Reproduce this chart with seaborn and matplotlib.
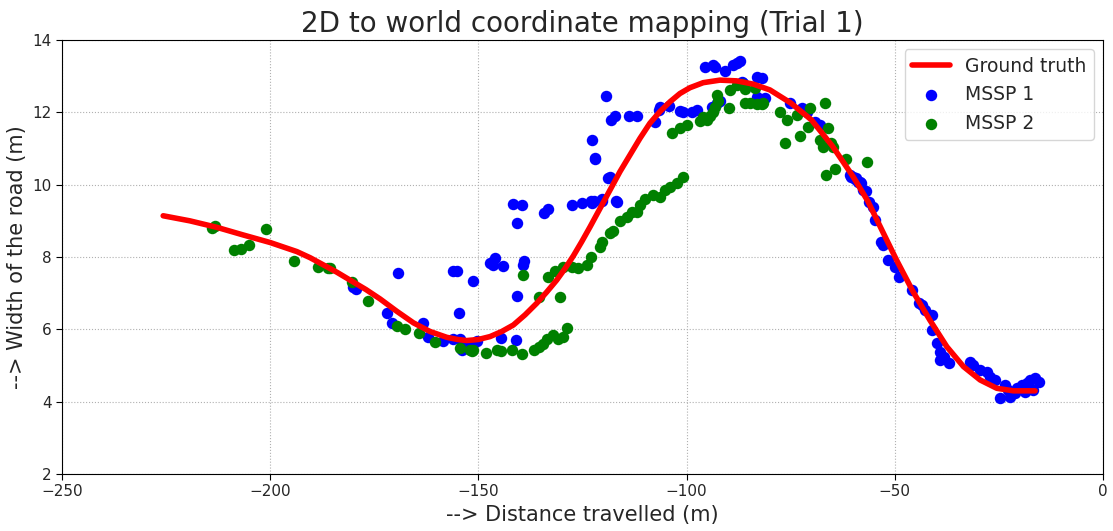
import matplotlib
matplotlib.use("Agg")
import matplotlib.pyplot as plt
import seaborn as sns
import pandas as pd

# ground truth curve
gt_x = [-225.7, -219.3, -212.8, -206.5, -200, -193.6, -190.4, -187.2, -184, -180.8, -177, -173.6,
        -169.6, -165.6, -161.6, -157.6, -155, -152.8, -150, -147.2, -144.4, -141.6, -138.8, -136,
        -133.6, -131.2, -129.2, -127.2, -125.2, -123.2, -120.8, -118.4, -116,
        -113.6, -111.2, -108.8, -106.4, -104, -101.6, -99.2, -96, -92, -88, -84, -80, -75, -70, -65,
        -60, -56.5, -53.5, -49.6, -45.6, -41.6, -37.5, -33.5, -29.5, -25.5, -21.5, -16.3]
gt_y = [9.14, 9.0, 8.82, 8.61, 8.4, 8.15, 7.98, 7.78, 7.58, 7.36, 7.1, 6.84,
        6.5, 6.18, 5.94, 5.78, 5.72, 5.69, 5.72, 5.8, 5.94, 6.12, 6.4, 6.72,
        7.03, 7.36, 7.68, 8.03, 8.42, 8.83, 9.34, 9.85, 10.36,
        10.82, 11.28, 11.7, 12.02, 12.29, 12.52, 12.68, 12.82, 12.89, 12.87, 12.78, 12.62, 12.26, 11.79, 11.07,
        10.22, 9.55, 8.84, 7.92, 7.04, 6.26, 5.52, 4.97, 4.6, 4.37, 4.3, 4.3]

mssp1_x = [-169.4, -156.0, -155.2, -151.2, -154.6, -180.0, -179.4, -171.9, -170.8, -163.4, -162.0,
           -158.4, -156.0, -154.4, -154.0, -150.4, -147.2, -152.5, -144.6, -141.0, -140.7,
           -146.0, -146.6, -144.2, -139.0, -139.2, -141.6, -139.6, -140.8, -134.2, -133.2,
           -127.6, -125.2, -123.0, -122.2, -120.4, -116.9, -118.8, -118.4, -122.0,
           -122.8, -120.4, -116.8, -122.8, -122.0, -119.4, -118.2, -117.2, -113.8, -112.0,
           -107.6, -106.6, -106.4, -104.2, -101.6, -100.8, -98.8, -97.6,
           -95.6, -93.6, -93.2, -90.8, -88.8, -88.0, -87.2, -94.0, -92.8, -92.0,
           -86.8, -86.4, -83.2, -82.0, -83.2, -81.2, -75.2, -72.4, -71.2, -69.2, -68.0,
           -60.8, -60.0, -59.2, -58.4, -57.6, -60.4, -59.6, -58.8, -58.0, -56.9,
           -56.1, -55.2, -54.8, -53.2, -52.8, -51.6, -50.0, -48.9,
           -45.9, -44.3, -43.5, -42.7, -41.1, -41.1, -39.9, -39.1, -38.3, -37.1, -39.1,
           -31.9, -31.1, -29.5, -27.9, -27.1, -25.9,
           -24.7, -23.5, -22.7, -22.3, -20.7, -19.5, -18.3, -17.5, -16.3, -15.3, -16.7, -18.7, -21.1]
mssp1_y = [7.55, 7.6, 7.6, 7.35, 6.44, 7.18, 7.12, 6.44, 6.18, 6.18, 5.78,
           5.69, 5.73, 5.73, 5.43, 5.69, 7.83, 5.6, 5.75, 5.71, 6.92,
           7.97, 7.78, 7.75, 7.9, 7.78, 9.47, 9.44, 8.93, 9.23, 9.32,
           9.45, 9.5, 9.55, 9.55, 9.55, 9.54, 10.18, 10.22, 10.7,
           9.5, 9.6, 9.53, 11.24, 10.73, 12.45, 11.79, 11.9, 11.9, 11.9,
           11.74, 12.06, 12.16, 12.18, 12.05, 12.02, 12.02, 12.06,
           13.26, 13.31, 13.25, 13.15, 13.31, 13.37, 13.43, 12.16, 12.25, 12.3,
           12.85, 12.8, 12.99, 12.94, 12.43, 12.39, 12.27, 12.11, 12.02, 11.74, 11.65,
           10.27, 10.22, 10.18, 10.08, 9.85, 10.22, 10.15, 10.08, 10.04, 9.83,
           9.53, 9.39, 9.02, 8.42, 8.33, 7.92, 7.73, 7.44,
           7.09, 6.72, 6.67, 6.54, 6.4, 5.98, 5.61, 5.38, 5.24, 5.06, 5.15,
           5.11, 5.02, 4.88, 4.83, 4.69, 4.6,
           4.09, 4.46, 4.32, 4.14, 4.37, 4.46, 4.51, 4.6, 4.65, 4.55, 4.32, 4.28, 4.23]

mssp2_x = [-214.0, -213.3, -208.8, -207.0, -205.0, -201.0, -194.4, -188.5, -186.0, -185.6,
           -180.3, -176.4, -169.6, -167.6, -164.2, -160.4, -154.4, -152.0, -151.6, -151.2,
           -148.2, -145.5, -144.6, -142.0, -139.6, -136.6, -135.4, -134.4, -133.6, -132.0,
           -130.8, -129.6, -128.8, -130.4, -135.4, -139.2,
           -133.2, -131.6, -129.6, -127.6, -126.0, -124.0, -123.0,
           -120.8, -120.2, -118.4, -117.6, -116.0, -114.4, -113.2, -112.0, -111.2, -110.0,
           -108.0, -106.4, -105.2, -104.0, -102.4, -100.8,
           -103.4, -101.6, -100.0, -96.8, -96.0, -95.0, -94.4, -93.6, -93.2, -92.4, -92.8,
           -89.8, -89.6, -88.0, -86.8, -86.0, -86.0, -84.8, -83.2, -82.0, -81.6, -83.6,
           -77.6, -76.0, -76.4, -73.6, -72.8, -70.4, -70.8, -66.8,
           -68.0, -67.2, -66.0, -65.2, -64.8, -66.4, -64.4, -61.8, -56.6]
mssp2_y = [8.8, 8.85, 8.19, 8.22, 8.33, 8.77, 7.9, 7.72, 7.7, 7.7,
           7.32, 6.79, 6.09, 6.0, 5.91, 5.66, 5.48, 5.44, 5.4, 5.44,
           5.34, 5.42, 5.4, 5.42, 5.31, 5.43, 5.5, 5.59, 5.73, 5.83,
           5.73, 5.8, 6.03, 6.89, 6.9, 7.5,
           7.44, 7.6, 7.73, 7.73, 7.69, 7.78, 8.01,
           8.29, 8.42, 8.66, 8.73, 9.0, 9.11, 9.25, 9.25, 9.44, 9.6,
           9.71, 9.67, 9.85, 9.94, 10.04, 10.22,
           11.42, 11.56, 11.65, 11.76, 11.88, 11.79, 11.9, 12.0, 12.16, 12.3, 12.48,
           12.11, 12.61, 12.75, 12.79, 12.65, 12.26, 12.26, 12.22, 12.22, 12.27, 12.66,
           12.02, 11.79, 11.14, 11.93, 11.35, 12.11, 11.6, 12.27,
           11.24, 11.05, 11.56, 11.14, 11.05, 10.27, 10.42, 10.7, 10.64]

gt = pd.DataFrame({"x": gt_x, "y": gt_y})
m1 = pd.DataFrame({"x": mssp1_x, "y": mssp1_y})
m2 = pd.DataFrame({"x": mssp2_x, "y": mssp2_y})

sns.set_style("white")
plt.rcParams['font.family'] = ['DejaVu Sans']

fig, ax = plt.subplots(figsize=(11.13, 5.31), dpi=100)
fig.subplots_adjust(left=0.0557, right=0.991, top=0.9247, bottom=0.1073)

sns.scatterplot(data=m1, x="x", y="y", color="blue", s=68, linewidth=0, label="MSSP 1", ax=ax, zorder=2)
sns.scatterplot(data=m2, x="x", y="y", color="green", s=68, linewidth=0, label="MSSP 2", ax=ax, zorder=3)
sns.lineplot(data=gt, x="x", y="y", color="red", linewidth=4, sort=False, label="Ground truth", ax=ax, zorder=4)

ax.set_xlim(-250, 0)
ax.set_ylim(2, 14)
ax.set_xticks(range(-250, 1, 50))
ax.set_yticks(range(2, 15, 2))
ax.grid(True, linestyle=":", color="#b0b0b0", linewidth=0.8)
for sp in ax.spines.values():
    sp.set_color("black")
    sp.set_linewidth(0.8)
ax.tick_params(axis="both", labelsize=11, direction="out", length=4, color="black", left=True, bottom=True)

ax.set_title("2D to world coordinate mapping (Trial 1)", fontsize=20)
ax.set_xlabel("--> Distance travelled (m)", fontsize=15)
ax.set_ylabel("--> Width of the road (m)", fontsize=15)

h, l = ax.get_legend_handles_labels()
order = [l.index("Ground truth"), l.index("MSSP 1"), l.index("MSSP 2")]
ax.legend([h[i] for i in order], [l[i] for i in order], loc="upper right", fontsize=13.5)

plt.savefig("out.png", dpi=100)
